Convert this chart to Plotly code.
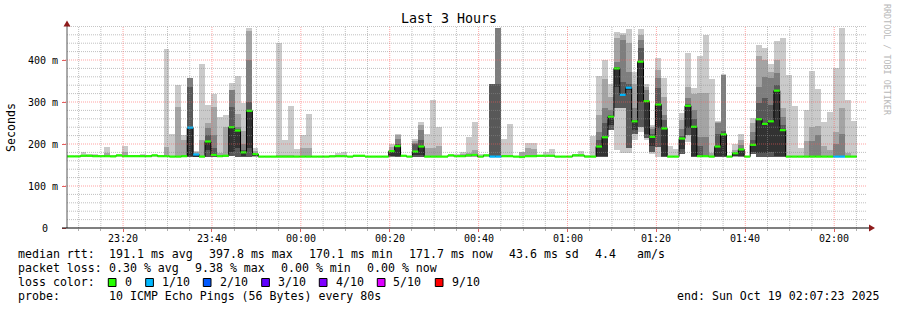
import plotly.graph_objects as go
import pandas as pd

N = None

# ---------------- data ----------------
TITLE = "Last 3 Hours"
START = "2025-10-18 23:07:23"
END = "2025-10-19 02:07:23"
FIRST_BAR_CENTER = "2025-10-18 23:07:06"
STEP_S = 80  # one probe round every 80 s

# median rtt per round (ms)
median = [
    170.5, 170.5, 170.5, 172, 172, 171, 171, 171, 170.5, 173,
    171, 171, 171, 171, 171, 173, 171, 171, 170, 170,
    171, 239, 175, 170, 206, 174, 171, 172, 240, 232,
    180, 279, 176, 170, 170, 170, 170, 170, 170, 170,
    170, 170, 170, 170, 170, 170.5, 171, 171, 170, 172,
    172, 170, 170, 170, 170, 183, 195, 172, 170, 182,
    194, 170, 170, 170, 170, 173, 171, 171, 173, 174,
    170, 173, 170, 170, 171, 171, 170, 169, 171, 171,
    172, 172, 172, 170, 170, 170, 173, 173, 170, 170,
    194, 216, 265, 380, 317, 334, 254, 396, 302, 217,
    294, 237, 170, 170, 213, 291, 241, 171, 171, 170,
    194, 223, 170, 178, 187, 170, 198, 259, 248, 254,
    327, 233, 170, 170, 170, 170, 170, 170, 170, 170,
    170, 170, 170, 170]

# lost pings per round (out of 10)
loss = [
    0, 0, 0, 0, 0, 0, 0, 0, 0, 0,
    0, 0, 0, 0, 0, 0, 0, 0, 0, 0,
    0, 1, 1, 0, 0, 0, 0, 0, 0, 0,
    0, 0, 0, 0, 0, 0, 0, 0, 0, 0,
    0, 0, 0, 0, 0, 0, 0, 0, 0, 0,
    0, 0, 0, 0, 0, 0, 0, 0, 0, 0,
    0, 0, 0, 0, 0, 0, 0, 0, 0, 0,
    0, 0, 1, 1, 0, 0, 0, 0, 0, 0,
    0, 0, 0, 0, 0, 0, 0, 0, 0, 0,
    0, 0, 0, 0, 1, 1, 0, 0, 0, 0,
    0, 0, 0, 0, 0, 0, 0, 0, 0, 0,
    0, 0, 0, 0, 0, 0, 0, 0, 0, 0,
    0, 0, 0, 0, 0, 0, 0, 0, 0, 0,
    1, 1, 0, 0]

# smoke: top of each ping band (lightest = slowest ping ... darker = inner pings)
ping_max = [
    N, N, N, 181, 176, 176, 174, 193, 175, 175,
    195, 172, 175, 176, 172, 175, 172, 426, 224, 340,
    221, 356, 183, 390, 293, 319, 265, 269, 346, 362,
    298, 476, 190, N, N, N, 440, 210, 290, 187,
    221, 271, N, N, N, 174, 179, 181, N, 173,
    174, N, N, N, N, 200, 225, N, N, 213,
    252, 225, 305, 240, N, 174, 176, 181, 217, 252,
    176, 175, 343, 476, 213, 248, N, 181, 202, 202,
    174, 181, 188, N, N, N, 176, 183, 172, 219,
    362, 400, 344, 467, 465, 475, 372, 475, 343, 245,
    404, 356, 195, 187, 273, 417, 333, 410, 460, 354,
    255, 367, N, 200, 223, N, 261, 436, 428, 390,
    445, 452, 364, 290, 190, 281, 374, 330, 253, 277,
    380, 476, 305, 255]

smoke2 = [
    N, N, N, N, N, N, N, 178, N, N,
    181, N, N, N, N, N, N, 194, N, 288,
    210, 356, 180, 210, 249, 289, 178, 241, 329, 271,
    231, 469, 184, N, N, N, 174, 174, 174, N,
    190, 190, N, N, N, N, N, N, N, N,
    N, N, N, N, N, 194, 221, N, N, 208,
    245, 190, 190, 195, N, N, N, 176, 178, 186,
    N, N, 343, 476, N, N, N, 181, 190, 188,
    N, N, N, N, N, N, N, N, N, N,
    269, 355, 311, 452, 460, 440, 343, 460, 335, 240,
    376, 313, N, N, 257, 336, 320, 321, 321, 178,
    252, 364, N, 186, 210, N, 251, 410, 400, 372,
    400, 285, N, N, N, 206, 241, 243, 195, 185,
    229, 285, 178, N]

smoke3 = [
    N, N, N, N, N, N, N, N, N, N,
    N, N, N, N, N, N, N, N, N, N,
    N, 356, N, N, 239, 221, N, N, 329, 240,
    200, 400, N, N, N, N, N, N, N, N,
    N, N, N, N, N, N, N, N, N, N,
    N, N, N, N, N, 184, 213, N, N, 203,
    233, N, N, N, N, N, N, N, N, N,
    N, N, 343, 476, N, N, N, N, N, N,
    N, N, N, N, N, N, N, N, N, N,
    229, 286, 280, 396, 448, 372, 285, 448, 329, 236,
    356, 269, N, N, 235, 309, 280, 217, 217, N,
    249, 364, N, N, 198, N, 229, 336, 360, 356,
    368, 265, N, N, N, N, 206, 221, N, N,
    200, 225, N, N]

smoke4 = [
    N, N, N, N, N, N, N, N, N, N,
    N, N, N, N, N, N, N, N, N, N,
    N, 336, N, N, 221, 190, N, N, 287, 235,
    185, 300, N, N, N, N, N, N, N, N,
    N, N, N, N, N, N, N, N, N, N,
    N, N, N, N, N, N, 200, N, N, 200,
    210, N, N, N, N, N, N, N, N, N,
    N, N, 343, 343, N, N, N, N, N, N,
    N, N, N, N, N, N, N, N, N, N,
    210, 250, 268, 384, 348, 344, 257, 428, 305, 225,
    333, 258, N, N, 220, 296, 260, 195, N, N,
    225, 230, N, N, N, N, 210, 298, 309, 293,
    340, 245, N, N, N, N, N, N, N, N,
    N, N, N, N]

# bottom of the darkest (central) band, its top is the median
core_lo = [
    N, N, N, N, N, N, N, N, N, N,
    N, N, N, N, N, N, N, N, N, N,
    N, 172, 171, N, 186, N, N, N, 180, 190,
    172, 190, 171, N, N, N, N, N, N, N,
    N, N, N, N, N, N, N, N, N, N,
    N, N, N, N, N, 172, 172, N, N, 174,
    175, N, N, N, N, N, N, N, N, N,
    N, N, N, N, N, N, N, N, N, N,
    N, N, N, N, N, N, N, N, N, N,
    172, 172, 245, 336, 315, 330, 233, 301, 225, 195,
    237, 172, N, N, 188, 237, 172, N, N, N,
    172, 172, N, 172, 172, N, 180, 178, 178, 180,
    172, 172, N, N, N, N, N, N, N, N,
    N, N, N, N]

# fastest ping (bottom of light band), N = at the 170 ms floor
smoke_lo = [
    N, N, N, N, N, N, N, N, N, N,
    N, N, N, N, N, N, N, N, N, N,
    N, N, N, N, N, N, N, N, 172, N,
    N, N, N, N, N, N, N, N, N, N,
    N, N, N, N, N, N, N, N, N, N,
    N, N, N, N, N, N, N, N, N, N,
    N, N, N, N, N, N, N, N, N, N,
    N, N, N, N, N, N, N, N, N, N,
    N, N, N, N, N, N, N, N, N, N,
    N, N, 233, 186, 178, 178, 210, 229, 210, 176,
    N, N, N, N, 176, 205, N, N, N, N,
    N, N, N, N, N, N, 176, N, N, N,
    N, N, N, N, N, N, N, N, N, N,
    N, N, N, N]

# bottom of the inner grey bands, N = same as smoke_lo
smoke_lo2 = [
    N, N, N, N, N, N, N, N, N, N,
    N, N, N, N, N, N, N, N, N, N,
    N, N, N, N, N, N, N, N, N, N,
    N, N, N, N, N, N, N, N, N, N,
    N, N, N, N, N, N, N, N, N, N,
    N, N, N, N, N, N, N, N, N, N,
    N, N, N, N, N, N, N, N, N, N,
    N, N, N, N, N, N, N, N, N, N,
    N, N, N, N, N, N, N, N, N, N,
    N, N, N, 285, 285, 190, 225, 240, 215, 182,
    194, N, N, N, N, 221, N, N, N, N,
    N, N, N, N, N, N, N, N, N, N,
    N, N, N, N, N, N, N, N, N, N,
    N, N, N, N]

FLOOR = 170
Y_TICKS = [0, 100, 200, 300, 400]
Y_TICK_TEXT = ["0", "100 m", "200 m", "300 m", "400 m"]
X_TICKS = ["2025-10-18 23:20", "2025-10-18 23:40", "2025-10-19 00:00", "2025-10-19 00:20",
           "2025-10-19 00:40", "2025-10-19 01:00", "2025-10-19 01:20", "2025-10-19 01:40",
           "2025-10-19 02:00"]

LOSS_LEVELS = ["0", "1/10", "2/10", "3/10", "4/10", "5/10", "9/10"]
LOSS_COLORS = ["#26ff00", "#00b8ff", "#0059ff", "#5e00ff", "#7e00ff", "#dd00ff", "#ff0000"]

STATS_RTT = ["191.1 ms avg", "397.8 ms max", "170.1 ms min", "171.7 ms now", "43.6 ms sd", "4.4", "am/s"]
STATS_LOSS = ["0.30 % avg", "9.38 % max", "0.00 % min", "0.00 % now"]
PROBE = "10 ICMP Echo Pings (56 Bytes) every 80s"
END_TEXT = "end: Sun Oct 19 02:07:23 2025"

# ---------------- geometry / style ----------------
W, H = 897, 310
L, T, PW, PH = 67, 26, 800, 202
YMAX = PH / 0.42
MONO = "DejaVu Sans Mono"
SMOKE_COLORS = ["#cacaca", "#a4a4a4", "#7e7e7e", "#585858", "#323232"]


def px(x):
    return (x - L) / PW


def py(y):
    return (T + PH - y) / PH


n = len(median)
c0 = pd.Timestamp(FIRST_BAR_CENTER)
step = pd.Timedelta(seconds=STEP_S)
centers = [c0 + step * i for i in range(n)]
lefts = [c - step / 2 for c in centers]

lo1 = [FLOOR if v is None else v for v in smoke_lo]
lo2 = [lo1[i] if smoke_lo2[i] is None else smoke_lo2[i] for i in range(n)]


def band(tops, bottoms, color):
    base, h = [], []
    for t, b in zip(tops, bottoms):
        if t is None or b is None or t <= b:
            base.append(None)
            h.append(None)
        else:
            base.append(b)
            h.append(t - b)
    return go.Bar(x=centers, y=h, base=base, width=STEP_S * 1000,
                  marker=dict(color=color, line=dict(width=0)),
                  hoverinfo="skip", showlegend=False)


fig = go.Figure()
fig.add_trace(band(ping_max, lo1, SMOKE_COLORS[0]))
fig.add_trace(band(smoke2, lo2, SMOKE_COLORS[1]))
fig.add_trace(band(smoke3, lo2, SMOKE_COLORS[2]))
fig.add_trace(band(smoke4, lo2, SMOKE_COLORS[3]))
fig.add_trace(band(median, core_lo, SMOKE_COLORS[4]))

# black median step line
fig.add_trace(go.Scatter(x=lefts + [lefts[-1] + step], y=median + [median[-1]],
                         mode="lines", line=dict(color="#000000", width=1, shape="hv"),
                         hoverinfo="skip", showlegend=False))

# median marker coloured by loss (one segment per round)
for lvl, col in enumerate(LOSS_COLORS):
    xs, ys = [], []
    for i in range(n):
        if loss[i] == lvl:
            xs += [lefts[i], lefts[i] + step, None]
            ys += [median[i], median[i], None]
    if xs:
        fig.add_trace(go.Scatter(x=xs, y=ys, mode="lines", line=dict(color=col, width=2.2),
                                 hoverinfo="skip", showlegend=False, connectgaps=False))

shapes = []
# grid (drawn above data, like rrdtool)
minor_c = "rgba(140,140,140,0.55)"
major_c = "rgba(255,90,90,0.55)"
for v in range(20, 481, 20):
    col = major_c if v % 100 == 0 else minor_c
    shapes.append(dict(type="line", xref="paper", yref="y", x0=px(63) if v % 100 == 0 else 0, x1=1,
                       y0=v, y1=v, line=dict(color=col, width=1, dash="1px,1px"), layer="above"))
for t in pd.date_range("2025-10-18 23:10:00", "2025-10-19 02:05:00", freq="5min"):
    col = major_c if t.minute % 20 == 0 else minor_c
    shapes.append(dict(type="line", xref="x", yref="paper", x0=t, x1=t, y0=0, y1=1,
                       line=dict(color=col, width=1, dash="1px,1px"), layer="above"))
# axes
shapes.append(dict(type="line", xref="paper", yref="paper", x0=px(67), x1=px(67), y0=py(228), y1=py(24),
                   line=dict(color="#555555", width=1), layer="above"))
shapes.append(dict(type="line", xref="paper", yref="paper", x0=px(62), x1=px(870), y0=py(228), y1=py(228),
                   line=dict(color="#000000", width=1), layer="above"))
arrow_c = "#8e1b1b"
shapes.append(dict(type="path", xref="paper", yref="paper",
                   path=f"M {px(67)},{py(20.5)} L {px(63.5)},{py(26.5)} L {px(70.5)},{py(26.5)} Z",
                   fillcolor=arrow_c, line=dict(width=0), layer="above"))
shapes.append(dict(type="path", xref="paper", yref="paper",
                   path=f"M {px(875)},{py(228)} L {px(869)},{py(224.5)} L {px(869)},{py(231.5)} Z",
                   fillcolor=arrow_c, line=dict(width=0), layer="above"))

annotations = []


def text(x, y, s, size=11.6, anchor="left", color="#000000", angle=0):
    annotations.append(dict(x=px(x), y=py(y), xref="paper", yref="paper", text=s, showarrow=False,
                            xanchor=anchor, yanchor="middle", textangle=angle,
                            font=dict(family=MONO, size=size, color=color)))


text(448.5, 18.5, TITLE, size=13.3, anchor="center")
text(11, 127, "Seconds", size=11.6, anchor="center", angle=-90)
text(887, 60, "RRDTOOL / TOBI OETIKER", size=8.4, anchor="center", color="#b8b8b8", angle=90)

for v, s in zip(Y_TICKS, Y_TICK_TEXT):
    if v == 0:
        annotations.append(dict(x=px(44.7), y=v, xref="paper", yref="y", text=s, showarrow=False,
                                xanchor="center", yanchor="middle", font=dict(family=MONO, size=10)))
    else:
        annotations.append(dict(x=px(60), y=v, xref="paper", yref="y", text=s, showarrow=False,
                                xanchor="right", yanchor="middle", font=dict(family=MONO, size=10)))

for t in X_TICKS:
    annotations.append(dict(x=t, y=py(238), xref="x", yref="paper", text=t[-5:], showarrow=False,
                            xanchor="center", yanchor="middle", font=dict(family=MONO, size=10)))

# legend block
row = [254, 268, 282, 296]
text(15.5, row[0], "median rtt:")
for s, x in zip(STATS_RTT, [106.8, 206.8, 306.8, 406.5, 506.8, 592.8, 634.8]):
    text(x, row[0], s)
text(15.5, row[1], "packet loss:")
for s, x in zip(STATS_LOSS, [106.8, 192.8, 278.8, 364.8]):
    text(x, row[1], s)
text(15.5, row[2], "loss color:")
sq_x = [108.3, 145.7, 203.3, 261.7, 319.3, 377.3, 435.3]
lab_x = [122.8, 159.8, 217.8, 275.5, 333.5, 391.2, 449.5]
for s, c, sx, lx in zip(LOSS_LEVELS, LOSS_COLORS, sq_x, lab_x):
    shapes.append(dict(type="rect", xref="paper", yref="paper", x0=px(sx), x1=px(sx + 7.7),
                       y0=py(286.5), y1=py(278.5), fillcolor=c, line=dict(color="#000000", width=1),
                       layer="above"))
    text(lx, row[2], s)
text(15.5, row[3], "probe:")
text(106.8, row[3], PROBE)
text(880.5, row[3], END_TEXT, anchor="right")

fig.update_layout(
    width=W, height=H, margin=dict(l=L, r=W - L - PW, t=T, b=H - T - PH, pad=0),
    paper_bgcolor="#ffffff", plot_bgcolor="#ffffff",
    barmode="overlay", bargap=0, showlegend=False,
    font=dict(family=MONO, size=10, color="#000000"),
    shapes=shapes, annotations=annotations,
    xaxis=dict(type="date", range=[START, END], showgrid=False, zeroline=False, showline=False,
               showticklabels=False,
               ticks="outside", ticklen=3, tickcolor="#e06060", tickwidth=1,
               tick0="2025-10-18 23:20:00", dtick=20 * 60 * 1000,
               minor=dict(dtick=5 * 60 * 1000, ticks="outside", ticklen=2, tickcolor="#b0b0b0",
                          showgrid=False),
               fixedrange=True),
    yaxis=dict(range=[0, YMAX], showgrid=False, zeroline=False, showline=False,
               showticklabels=False, tickvals=Y_TICKS, ticks="outside", ticklen=4,
               tickcolor="#e06060", fixedrange=True),
)

fig.write_html("out.html")
